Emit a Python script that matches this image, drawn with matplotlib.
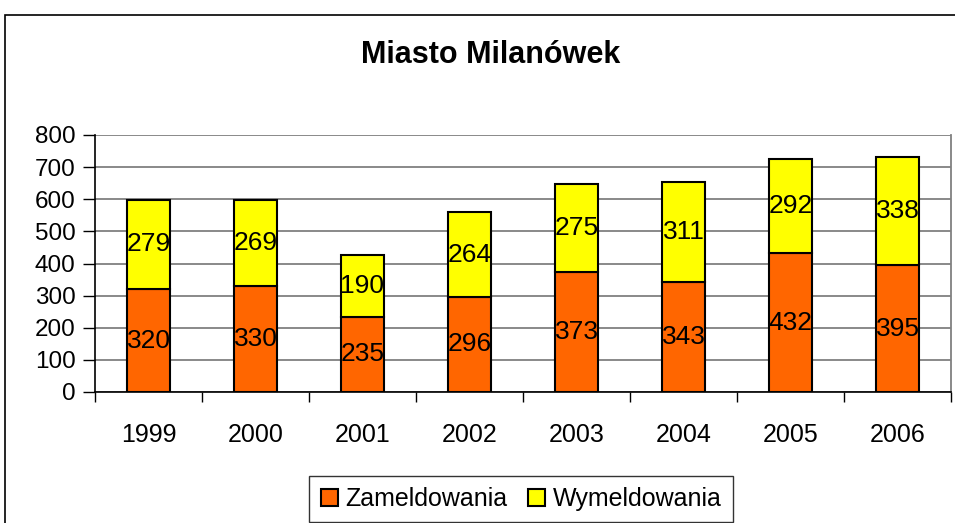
import matplotlib.pyplot as plt
from matplotlib.patches import Rectangle
import numpy as np

plt.rcParams['font.family'] = ['Liberation Sans', 'DejaVu Sans']

# dane
lata = ['1999', '2000', '2001', '2002', '2003', '2004', '2005', '2006']
zameldowania = [320, 330, 235, 296, 373, 343, 432, 395]
wymeldowania = [279, 269, 190, 264, 275, 311, 292, 338]

W, H = 955, 523
fig = plt.figure(figsize=(W / 100, H / 100), dpi=100)

# ramka wykresu (uciete z prawej i od dolu)
fig.patches.append(Rectangle((5 / W, -0.1), 1.2, 1 - 15 / H + 0.1,
                             transform=fig.transFigure, fill=False,
                             edgecolor='black', linewidth=1.2))

ax = fig.add_axes([95 / W, 1 - 392 / H, (951 - 95) / W, (392 - 135) / H])

x = np.arange(len(lata))
b1 = ax.bar(x, zameldowania, width=0.41, color='#FF6600',
            edgecolor='black', linewidth=1.5, label='Zameldowania', zorder=3)
b2 = ax.bar(x, wymeldowania, width=0.41, bottom=zameldowania, color='#FFFF00',
            edgecolor='black', linewidth=1.5, label='Wymeldowania', zorder=3)

# etykiety danych
for i in range(len(lata)):
    ax.text(x[i], zameldowania[i] / 2, str(zameldowania[i]),
            ha='center', va='center', fontsize=19, zorder=4)
    ax.text(x[i], zameldowania[i] + wymeldowania[i] / 2, str(wymeldowania[i]),
            ha='center', va='center', fontsize=19, zorder=4)

ax.set_xlim(-0.5, len(lata) - 0.5)
ax.set_ylim(0, 800)
ax.set_yticks(range(0, 801, 100))
ax.tick_params(axis='y', labelsize=17.5, length=9, width=1, direction='out', pad=5)
ax.yaxis.grid(True, color='#808080', linewidth=1.3, zorder=0)

ax.set_xticks(x)
ax.set_xticklabels(lata, fontsize=18)
ax.tick_params(axis='x', length=0, pad=22)
ax.set_xticks(np.arange(-0.5, len(lata)), minor=True)
ax.tick_params(axis='x', which='minor', length=7, width=1, direction='out')

ax.spines['top'].set_visible(False)
ax.spines['right'].set_color('#808080')
ax.spines['right'].set_linewidth(1.3)
ax.spines['left'].set_linewidth(1.2)
ax.spines['bottom'].set_linewidth(1.2)

fig.text(491 / W, 1 - 55 / H, 'Miasto Milanówek', ha='center', va='center',
         fontsize=22, fontweight='bold')

leg = fig.legend(handles=[b1, b2], loc='center', bbox_to_anchor=(521 / W, 1 - 499 / H),
                 ncol=2, fontsize=18, frameon=True, fancybox=False,
                 handlelength=0.7, handleheight=0.7, handletextpad=0.3,
                 columnspacing=0.8, borderpad=0.45)
leg.get_frame().set_edgecolor('black')
leg.get_frame().set_linewidth(1)

plt.savefig('out.png', dpi=100)
